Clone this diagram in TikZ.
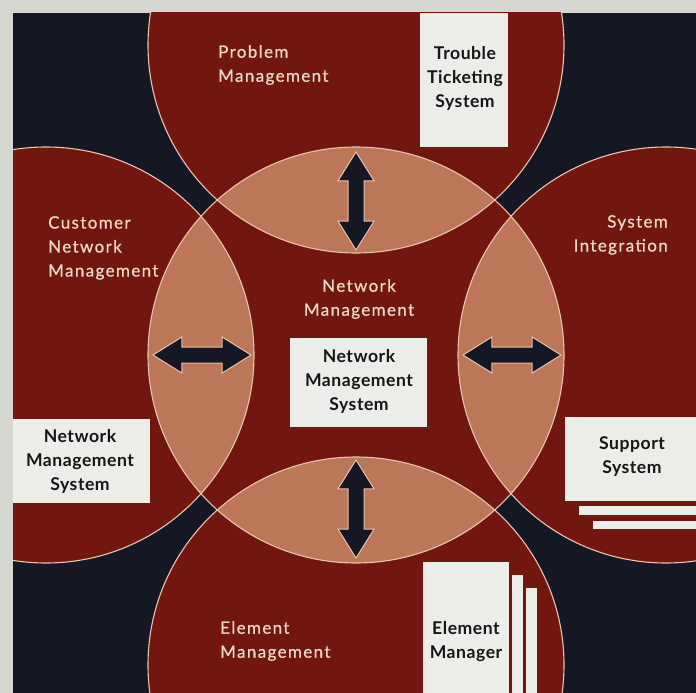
\documentclass[tikz,border=0pt]{standalone}
\usepackage{fontspec}
\setmainfont{Lato}
\newfontfamily\lightfont[LetterSpace=8, FakeBold=0.6]{Lato}
\newfontfamily\heavyfont[LetterSpace=3]{Lato}
\usetikzlibrary{shapes.arrows}
\definecolor{paper}{RGB}{214,214,208}
\definecolor{navy}{RGB}{22,23,36}
\definecolor{wine}{RGB}{114,23,15}
\definecolor{lens}{RGB}{188,119,89}
\definecolor{rim}{RGB}{232,196,176}
\definecolor{cream}{RGB}{236,218,200}
\definecolor{boxw}{RGB}{236,236,232}
\definecolor{ink}{RGB}{22,22,22}
\tikzset{
  wbox/.style={fill=boxw, inner sep=0pt, anchor=north west},
  lighttext/.style={text=cream, font=\lightfont\fontsize{17}{24}\selectfont, inner sep=0pt},
  boxtext/.style={text=ink, font=\heavyfont\bfseries\fontsize{17.6}{24}\selectfont, inner sep=0pt, align=center},
  dbl/.style={double arrow, draw=rim, line width=1pt, fill=navy, inner xsep=0pt, inner ysep=7.5pt,
    minimum height=98pt, double arrow head extend=10pt, double arrow tip angle=64},
  ring/.style={draw=rim, line width=1.1pt}
}
\begin{document}
\begin{tikzpicture}[x=1pt,y=-1pt]
\useasboundingbox (0,0) rectangle (696,693);
\fill[paper] (0,0) rectangle (696,693);
\fill[navy] (13,13) rectangle (696,693);
\begin{scope}
  \clip (13,13) rectangle (696,693);
  \foreach \cx/\cy in {356/355,356/45,46/355,666/355,356/665}
    \fill[wine] (\cx,\cy) circle[radius=208pt];
  \begin{scope}
    \clip (356,355) circle[radius=208pt];
    \foreach \cx/\cy in {356/45,46/355,666/355,356/665}
      \fill[lens] (\cx,\cy) circle[radius=208pt];
  \end{scope}
  \foreach \cx/\cy in {356/355,356/45,46/355,666/355,356/665}
    \draw[ring] (\cx,\cy) circle[radius=208pt];
\end{scope}
% white boxes
\node[wbox, minimum width=88pt, minimum height=134pt] (ttsbox) at (420,13) {};
\node[wbox, minimum width=137pt, minimum height=89pt] (nmsbox) at (290,338) {};
\node[wbox, minimum width=137pt, minimum height=84pt] (lnmsbox) at (13,419) {};
\node[wbox, minimum width=131pt, minimum height=84pt] (ssbox) at (565,417) {};
\node[wbox, minimum width=117pt, minimum height=9pt] (ssstrip1) at (579,506) {};
\node[wbox, minimum width=103pt, minimum height=8pt] (ssstrip2) at (593,521) {};
\node[wbox, minimum width=86pt, minimum height=131pt] (embox) at (423,562) {};
\node[wbox, minimum width=11pt, minimum height=118pt] (emstrip1) at (512,575) {};
\node[wbox, minimum width=11pt, minimum height=105pt] (emstrip2) at (526,588) {};
% box texts
\node[boxtext] (tts) at (465,78) {Trouble\\Ticketing\\System};
\node[boxtext] (nms) at (359,381) {Network\\Management\\System};
\node[boxtext] (lnms) at (80,461) {Network\\Management\\System};
\node[boxtext] (ss) at (632,457) {Support\\System};
\node[boxtext] (em) at (466,642) {Element\\Manager};
% light texts
\node[lighttext, align=left, anchor=north west] (pm) at (218,45) {Problem\\Management};
\node[lighttext, align=left, anchor=north west] (cnm) at (48,216) {Customer\\Network\\Management};
\node[lighttext, align=center] (nm) at (359,299) {Network\\Management};
\node[lighttext, align=right, anchor=north east] (si) at (668,215) {System\\Integration};
\node[lighttext, align=left, anchor=north west] (elm) at (220,621) {Element\\Management};
% arrows
\node[dbl, rotate=90] (atop) at (356,201) {};
\node[dbl] (aleft) at (202,355) {};
\node[dbl] (aright) at (512,355) {};
\node[dbl, rotate=90] (abot) at (356,509) {};
\end{tikzpicture}
\end{document}
